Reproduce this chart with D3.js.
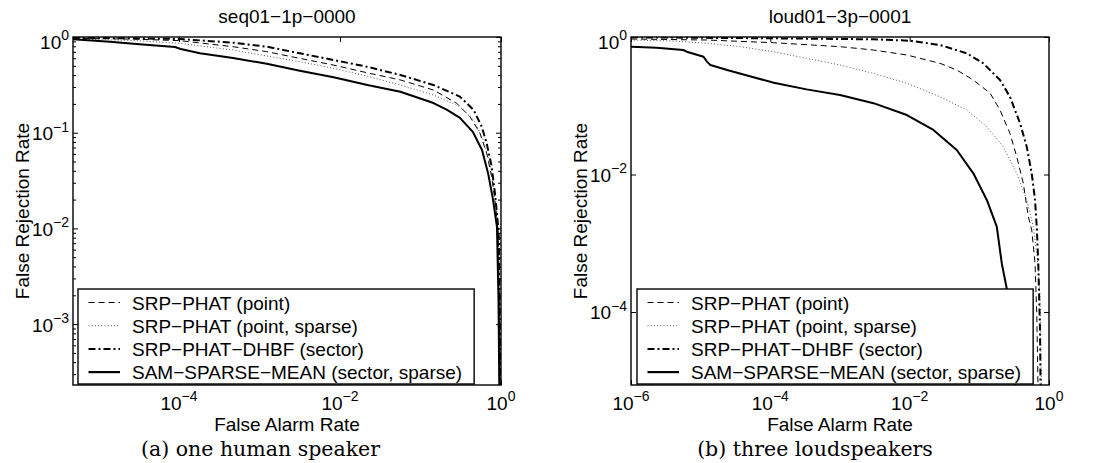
<!DOCTYPE html>
<html><head><meta charset="utf-8">
<script src="https://cdn.jsdelivr.net/npm/d3@7"></script>
<style>
body{margin:0;background:#fff;}
svg{display:block;}
text{font-family:"Liberation Sans",Arial,Helvetica,sans-serif;fill:#000;}
</style></head><body>
<svg id="chart" width="1093" height="463"></svg>
<script>
// ---------- data ----------
const seriesNames = ["SRP\u2212PHAT (point)", "SRP\u2212PHAT (point, sparse)", "SRP\u2212PHAT\u2212DHBF (sector)", "SAM\u2212SPARSE\u2212MEAN (sector, sparse)"];
const xLabel = "False Alarm Rate";
const yLabel = "False Rejection Rate";

// panel (a)
const aTitle = "seq01\u22121p\u22120000";
const aCaption = "(a) one human speaker";
const aXTicks = [1e-4, 1e-2, 1];
const aYTicks = [1, 1e-1, 1e-2, 1e-3];
const aXDomain = [4.82e-6, 1];
const aYDomain = [2.31e-4, 1];
const aPoint = [[4.8e-6,0.968],[2.7e-5,0.95],[1.02e-4,0.916],[4.68e-4,0.792],[1.23e-3,0.703],[3.16e-3,0.598],[8.32e-3,0.509],[0.0214,0.424],[0.0562,0.356],[0.145,0.279],[0.282,0.203],[0.412,0.147],[0.548,0.0986],[0.664,0.0610],[0.766,0.0347],[0.859,0.0169],[0.925,0.0089],[0.955,0.00178],[0.975,1.5e-4]];
const aPointSparse = [[4.8e-6,0.953],[2.7e-5,0.92],[1.02e-4,0.859],[4.68e-4,0.731],[1.23e-3,0.633],[3.16e-3,0.552],[8.32e-3,0.471],[0.0214,0.391],[0.0562,0.315],[0.145,0.248],[0.309,0.187],[0.457,0.136],[0.603,0.0839],[0.730,0.0479],[0.841,0.0233],[0.925,0.0105],[0.957,0.00178],[0.977,1.5e-4]];
const aSector = [[4.8e-6,0.984],[2.69e-5,0.968],[1.02e-4,0.953],[4.68e-4,0.873],[1.23e-3,0.792],[3.16e-3,0.676],[8.32e-3,0.575],[0.0214,0.490],[0.0562,0.401],[0.145,0.315],[0.309,0.238],[0.457,0.173],[0.575,0.116],[0.664,0.0776],[0.766,0.0442],[0.841,0.0233],[0.899,0.0132],[0.944,0.00759],[0.962,0.00178],[0.977,1.5e-4]];
const aSam = [[4.8e-6,0.946],[1.38e-5,0.893],[3.24e-5,0.839],[8.9e-5,0.787],[1.05e-4,0.75],[1.82e-4,0.676],[4.68e-4,0.603],[1.23e-3,0.525],[3.16e-3,0.445],[8.32e-3,0.380],[0.0219,0.315],[0.0562,0.268],[0.145,0.204],[0.214,0.173],[0.309,0.143],[0.447,0.102],[0.581,0.066],[0.690,0.038],[0.796,0.020],[0.891,0.0104],[0.931,0.00178],[0.957,1.5e-4]];

// panel (b)
const bTitle = "loud01\u22123p\u22120001";
const bCaption = "(b) three loudspeakers";
const bXTicks = [1e-6, 1e-4, 1e-2, 1];
const bYTicks = [1, 1e-2, 1e-4];
const bXDomain = [1e-6, 1];
const bYDomain = [8.67e-6, 1];
const bPoint = [[1e-6,0.935],[1.23e-5,0.904],[1.11e-4,0.826],[1.0e-3,0.723],[3.02e-3,0.647],[9.12e-3,0.547],[0.0273,0.414],[0.0474,0.331],[0.082,0.237],[0.143,0.152],[0.198,0.0867],[0.275,0.0397],[0.344,0.0182],[0.428,0.00745],[0.505,0.00243],[0.565,0.00156],[0.630,5.16e-4],[0.667,9.66e-5],[0.702,5e-6]];
const bPointSparse = [[1e-6,0.904],[4.07e-6,0.875],[1.23e-5,0.810],[3.69e-5,0.723],[1.11e-4,0.611],[3.31e-4,0.490],[1.0e-3,0.392],[3.02e-3,0.296],[9.12e-3,0.212],[0.0273,0.135],[0.0659,0.0867],[0.128,0.0496],[0.221,0.0254],[0.344,0.0104],[0.479,0.00426],[0.596,0.00174],[0.684,5.7e-4],[0.743,1.67e-4],[0.786,5e-6]];
const bSector = [[1e-6,0.99],[1.10e-4,0.957],[2.99e-3,0.926],[0.0101,0.883],[0.0273,0.765],[0.0659,0.579],[0.114,0.414],[0.198,0.237],[0.275,0.135],[0.384,0.0556],[0.479,0.0254],[0.565,0.0104],[0.630,0.00426],[0.667,0.00174],[0.702,5.16e-4],[0.743,5.47e-5],[0.760,5e-6]];
const bSam = [[1e-6,0.723],[2.34e-6,0.698],[5.62e-6,0.647],[6.31e-6,0.611],[1.10e-5,0.517],[1.23e-5,0.438],[1.38e-5,0.392],[2.40e-5,0.331],[6.46e-5,0.251],[1.12e-4,0.216],[3.31e-4,0.173],[1.0e-3,0.143],[3.02e-3,0.109],[9.12e-3,0.0733],[0.0219,0.0444],[0.0474,0.0227],[0.082,0.0104],[0.128,0.00426],[0.178,0.00174],[0.210,5.1e-4],[0.247,2.21e-4],[0.294,5.5e-5],[0.336,5e-6]];

// ---------- styles / layout ----------
const styles = [
  {dash:"6,4", w:1, c:"#000"},
  {dash:"1,2.2", w:1, c:"#555"},
  {dash:"7,3,2,3", w:2, c:"#000"},
  {dash:null, w:2, c:"#000"}
];
const svg = d3.select("#chart");
const FS = 19, EXP_FS = 14;

function expLabel(sel, t){
  const e = Math.round(Math.log10(t));
  sel.append("tspan").text("10");
  sel.append("tspan").attr("dy", -8.5).attr("font-size", EXP_FS).text(e === 0 ? "0" : (e < 0 ? "\u2212" + (-e) : String(e)));
}

function panel(cfg, id){
  const b = cfg.box;
  const x = d3.scaleLog().domain(cfg.xDomain).range([b.left, b.right]);
  const y = d3.scaleLog().domain(cfg.yDomain).range([b.bottom, b.top]);
  const g = svg.append("g");

  g.append("clipPath").attr("id", "clip" + id).append("rect")
    .attr("x", b.left).attr("y", b.top).attr("width", b.right - b.left).attr("height", b.bottom - b.top);

  const line = d3.line().x(p => x(p[0])).y(p => y(p[1]));
  cfg.series.forEach((d, i) => {
    g.append("path").datum(d).attr("clip-path", `url(#clip${id})`)
      .attr("fill", "none").attr("stroke", styles[i].c).attr("stroke-width", styles[i].w)
      .attr("stroke-dasharray", styles[i].dash).attr("stroke-linejoin", "round")
      .attr("d", line);
  });

  // ticks (inward, on all four sides)
  const addAxis = (axis, tr) => {
    const a = g.append("g").attr("transform", tr).call(axis);
    a.select(".domain").remove();
    a.selectAll("line").attr("stroke", "#000").attr("stroke-width", 1);
  };
  addAxis(d3.axisBottom(x).tickValues(cfg.xTicks).tickSize(-5).tickFormat(""), `translate(0,${b.bottom})`);
  addAxis(d3.axisTop(x).tickValues(cfg.xTicks).tickSize(-5).tickFormat(""), `translate(0,${b.top})`);
  addAxis(d3.axisLeft(y).tickValues(cfg.yTicks).tickSize(-5).tickFormat(""), `translate(${b.left},0)`);
  addAxis(d3.axisRight(y).tickValues(cfg.yTicks).tickSize(-5).tickFormat(""), `translate(${b.right},0)`);
  if (cfg.yMinor) {
    const minors = [];
    const [lo, hi] = cfg.yDomain;
    for (let d = Math.floor(Math.log10(lo)); d < 0; d++)
      for (let m = 2; m <= 9; m++) { const v = m * Math.pow(10, d); if (v >= lo && v <= hi) minors.push(v); }
    addAxis(d3.axisLeft(y).tickValues(minors).tickSize(-3).tickFormat(""), `translate(${b.left},0)`);
    addAxis(d3.axisRight(y).tickValues(minors).tickSize(-3).tickFormat(""), `translate(${b.right},0)`);
  }

  // box
  g.append("rect").attr("x", b.left).attr("y", b.top).attr("width", b.right - b.left).attr("height", b.bottom - b.top)
    .attr("fill", "none").attr("stroke", "#000").attr("stroke-width", 1.4);

  // tick labels
  cfg.xTicks.forEach(t => {
    g.append("text").attr("x", x(t)).attr("y", b.bottom + 24.5).attr("text-anchor", "middle")
      .attr("font-size", FS).call(expLabel, t);
  });
  cfg.yTicks.forEach(t => {
    const extra = (t === cfg.yDomain[1]) ? 4 : 0;
    g.append("text").attr("x", b.left - 4).attr("y", y(t) + 7.5 + extra).attr("text-anchor", "end")
      .attr("font-size", FS).call(expLabel, t);
  });

  // titles & labels
  const cx = (b.left + b.right) / 2, cy = (b.top + b.bottom) / 2;
  g.append("text").attr("x", cx).attr("y", 23).attr("text-anchor", "middle").attr("font-size", FS).text(cfg.title);
  g.append("text").attr("x", cx).attr("y", 431).attr("text-anchor", "middle").attr("font-size", FS).text(xLabel);
  g.append("text").attr("transform", `translate(${b.left - 44.5},${cy}) rotate(-90)`).attr("text-anchor", "middle")
    .attr("font-size", FS).text(yLabel);
  g.append("text").attr("x", cfg.captionX).attr("y", 455.5).attr("text-anchor", "middle")
    .style("font-family", "'DejaVu Serif', serif")
    .attr("font-size", 20.5).text(cfg.caption);

  // legend
  const lg = g.append("g");
  const lx = b.left + cfg.legendDx, ly = 289, rowH = 23.2;
  const bg = lg.append("rect").attr("x", lx).attr("y", ly).attr("height", 95).attr("fill", "#fff")
    .attr("stroke", "#000").attr("stroke-width", 1.4);
  let maxW = 0;
  seriesNames.forEach((name, i) => {
    const ry = ly + 13.5 + i * rowH;
    lg.append("line").attr("x1", lx + 10.5).attr("x2", lx + 42).attr("y1", ry).attr("y2", ry)
      .attr("stroke", styles[i].c).attr("stroke-width", i === 3 ? 2.2 : styles[i].w)
      .attr("stroke-dasharray", styles[i].dash);
    const t = lg.append("text").attr("x", lx + 54).attr("y", ry + 7).attr("font-size", FS).text(name);
    maxW = Math.max(maxW, t.node().getComputedTextLength());
  });
  bg.attr("width", 54 + maxW + 12);
}

panel({box:{left:73, right:501, top:37, bottom:385}, xDomain:aXDomain, yDomain:aYDomain,
  xTicks:aXTicks, yTicks:aYTicks, yMinor:true, series:[aPoint, aPointSparse, aSector, aSam],
  title:aTitle, caption:aCaption, captionX:260.5, legendDx:5}, "a");
panel({box:{left:631, right:1049, top:37, bottom:385}, xDomain:bXDomain, yDomain:bYDomain,
  xTicks:bXTicks, yTicks:bYTicks, yMinor:false, series:[bPoint, bPointSparse, bSector, bSam],
  title:bTitle, caption:bCaption, captionX:815, legendDx:6}, "b");
</script>
</body></html>
